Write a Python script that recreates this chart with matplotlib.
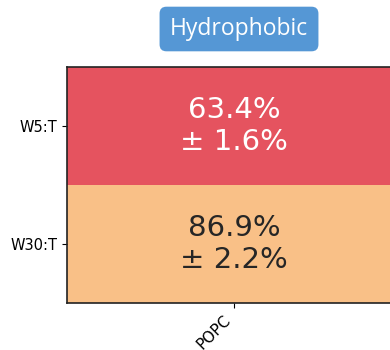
import matplotlib
matplotlib.use('Agg')
import matplotlib.pyplot as plt
import numpy as np
from matplotlib.colors import ListedColormap

rows = ['W5:T', 'W30:T']
cols = ['POPC']
means = [63.4, 86.9]
errs = [1.6, 2.2]
title = 'Hydrophobic'

cell_colors = ['#e5535f', '#f9c087']
text_colors = ['white', '#262626']

fig = plt.figure(figsize=(3.9, 3.5), dpi=100)
ax = fig.add_axes([67/390, 47/350, 334/390, 236/350])

ax.imshow(np.arange(len(rows)).reshape(-1, 1), cmap=ListedColormap(cell_colors),
          aspect='auto', extent=(-0.5, 0.5, len(rows)-0.5, -0.5))

for i in range(len(rows)):
    ax.text(0, i, '%.1f%%\n± %.1f%%' % (means[i], errs[i]), ha='center', va='center',
            fontsize=21, color=text_colors[i], linespacing=1.15)

ax.set_yticks(range(len(rows)))
ax.set_yticklabels(rows, fontsize=10.5)
ax.set_xticks(range(len(cols)))
ax.set_xticklabels(cols, fontsize=11, rotation=45, ha='right')
for s in ax.spines.values():
    s.set_linewidth(1.2)
    s.set_color('#222222')

fig.text(239/390, 1 - 29/350, title, ha='center', va='center', fontsize=16.5,
         family='Open Sans', color='white',
         bbox=dict(boxstyle='round,pad=0.45,rounding_size=0.3', fc='#5597d5', ec='none'))

fig.savefig('out.png', dpi=100)
